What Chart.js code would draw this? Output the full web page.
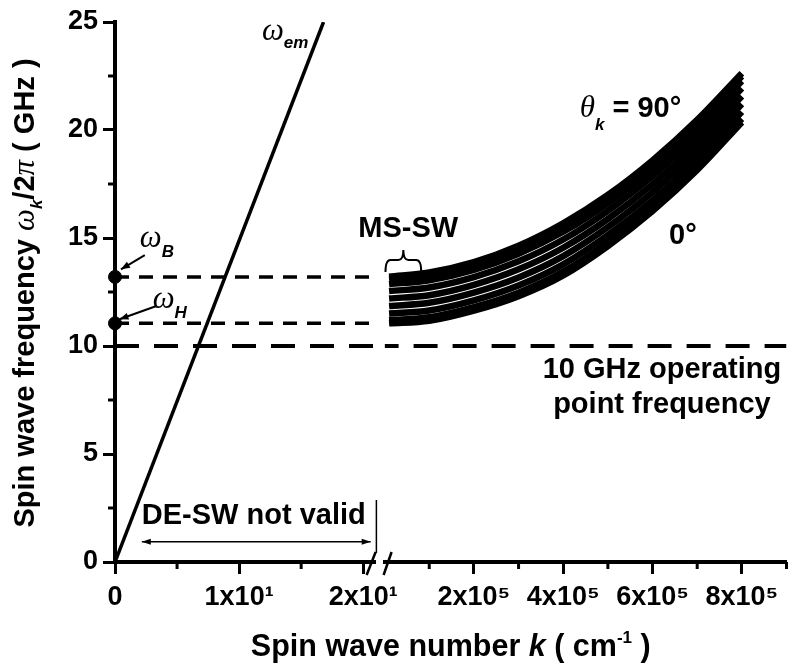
<!DOCTYPE html>
<html>
<head>
<meta charset="utf-8">
<script src="https://cdn.jsdelivr.net/npm/chart.js@4"></script>
<style>
  html, body { margin: 0; padding: 0; background: #fff; }
  canvas { display: block; }
</style>
</head>
<body>
<canvas id="myChart" width="794" height="667"></canvas>
<script>
// left part of the broken k axis (cm^-1, linear 0..21)
const emK = [0, 16.8];
const emFreq = [0, 25];
const fmrK = [0, 0];
const fmrFreq = [13.2, 11.05];      // omega_B, omega_H
const guideK = [0, 22];
const opLeftK = [0, 21];
const opRightK = [0, 900000];
const opFreq = 10;

// right part: MS-SW branch, one curve per theta_k, bottom (0 deg) to top (90 deg)
const msK = [10000, 100000, 200000, 300000, 400000, 500000, 600000, 700000, 800000];
const ms1 = [11.05, 11.17, 11.64, 12.31, 13.27, 14.63, 16.25, 18.15, 20.36];
const ms2 = [11.20, 11.33, 11.80, 12.47, 13.44, 14.80, 16.41, 18.31, 20.52];
const ms3 = [11.50, 11.64, 12.11, 12.80, 13.78, 15.13, 16.74, 18.64, 20.84];
const ms4 = [11.85, 12.00, 12.47, 13.17, 14.16, 15.50, 17.12, 19.01, 21.20];
const ms5 = [12.20, 12.35, 12.83, 13.55, 14.55, 15.88, 17.49, 19.38, 21.56];
const ms6 = [12.54, 12.71, 13.19, 13.92, 14.93, 16.26, 17.87, 19.75, 21.93];
const ms7 = [12.86, 13.04, 13.52, 14.27, 15.29, 16.61, 18.22, 20.10, 22.27];
const ms8 = [13.08, 13.27, 13.75, 14.50, 15.54, 16.85, 18.45, 20.33, 22.49];
const ms9 = [13.21, 13.40, 13.88, 14.64, 15.68, 16.99, 18.59, 20.47, 22.63];

const leftTicks = {0: '0', 10: '1x10¹', 20: '2x10¹'};
const rightTicks = {200000: '2x10⁵', 400000: '4x10⁵', 600000: '6x10⁵', 800000: '8x10⁵'};
const yLabelStep = 5;

const FONT = '"Liberation Sans", Arial, sans-serif';
const SERIF = '"Liberation Serif", "Times New Roman", serif';
const black = '#000';
const clear = 'rgba(0,0,0,0)';

const pts = (xs, ys) => xs.map((x, i) => ({x: x, y: ys[i]}));
const flat = (xs, v) => xs.map(x => ({x: x, y: v}));

const msSets = [ms1, ms2, ms3, ms4, ms5, ms6, ms7, ms8, ms9].map(vals => ({
  data: pts(msK, vals),
  xAxisID: 'xr', yAxisID: 'y',
  showLine: true, borderColor: black, borderWidth: 6.5,
  pointRadius: 0, cubicInterpolationMode: 'monotone', borderCapStyle: 'butt'
}));

function rich(ctx, segs, x, y, align) {
  let w = 0;
  segs.forEach(s => { ctx.font = s[1]; w += ctx.measureText(s[0]).width; });
  let cx = align === 'center' ? x - w / 2 : x;
  segs.forEach(s => {
    ctx.font = s[1];
    ctx.fillText(s[0], cx, y + (s[2] || 0));
    cx += ctx.measureText(s[0]).width;
  });
}

function line(ctx, x1, y1, x2, y2, w) {
  ctx.lineWidth = w;
  ctx.beginPath();
  ctx.moveTo(x1, y1);
  ctx.lineTo(x2, y2);
  ctx.stroke();
}

function head(ctx, x1, y1, x2, y2, len, half) {
  const a = Math.atan2(y2 - y1, x2 - x1);
  ctx.beginPath();
  ctx.moveTo(x2, y2);
  ctx.lineTo(x2 - len * Math.cos(a) + half * Math.sin(a), y2 - len * Math.sin(a) - half * Math.cos(a));
  ctx.lineTo(x2 - len * Math.cos(a) - half * Math.sin(a), y2 - len * Math.sin(a) + half * Math.cos(a));
  ctx.closePath();
  ctx.fill();
}

const B = 'bold 29px ' + FONT;
const BT = 'bold 30.5px ' + FONT;
const BIT = 'italic bold 30.5px ' + FONT;
const G = 'italic 31px ' + SERIF;
const SUB = 'italic bold 17px ' + FONT;

const annotate = {
  id: 'annotate',
  afterDraw(chart) {
    const {ctx, chartArea: a} = chart;
    const {xl, xr, y} = chart.scales;
    const X = v => xl.getPixelForValue(v);
    const R = v => xr.getPixelForValue(v);
    const Y = v => y.getPixelForValue(v);
    ctx.save();
    ctx.fillStyle = black;
    ctx.strokeStyle = black;
    ctx.lineCap = 'butt';
    ctx.textBaseline = 'alphabetic';
    ctx.textAlign = 'left';

    // minor ticks (outward, short)
    y.ticks.filter(t => t.value % yLabelStep !== 0).forEach(t => {
      const p = Y(t.value); line(ctx, a.left - 7, p, a.left, p, 3);
    });
    xl.ticks.filter(t => t.value % 10 !== 0).forEach(t => {
      const p = X(t.value); line(ctx, p, a.bottom, p, a.bottom + 7, 3);
    });
    xr.ticks.filter(t => t.value % 200000 !== 0).forEach(t => {
      const p = R(t.value); line(ctx, p, a.bottom, p, a.bottom + 7, 3);
    });

    // axis break
    line(ctx, xl.right - 9, a.bottom + 13, xl.right, a.bottom - 10, 2.5);
    line(ctx, xr.left - 1, a.bottom + 13, xr.left + 7, a.bottom - 10, 2.5);

    // omega labels and arrows
    rich(ctx, [['ω', G], ['em', SUB, 8]], X(11.84), Y(24.17));
    rich(ctx, [['ω', G], ['B', SUB, 10]], X(2.0), Y(14.58));
    rich(ctx, [['ω', G], ['H', SUB, 10]], X(3.04), Y(11.76));
    line(ctx, X(2.4), Y(14.21), X(0.48), Y(13.55), 2);
    head(ctx, X(2.4), Y(14.21), X(0.48), Y(13.55), 9, 3.5);
    line(ctx, X(3.34), Y(11.85), X(0.36), Y(11.24), 2);
    head(ctx, X(3.34), Y(11.85), X(0.36), Y(11.24), 9, 3.5);

    // DE-SW note
    ctx.font = B;
    ctx.fillText('DE-SW not valid', X(2.16), Y(1.76));
    line(ctx, X(2.16), Y(0.94), X(20.6), Y(0.94), 1.5);
    head(ctx, X(20.6), Y(0.94), X(2.16), Y(0.94), 9, 3);
    head(ctx, X(2.16), Y(0.94), X(20.6), Y(0.94), 9, 3);
    line(ctx, X(21.06), Y(0.42), X(21.06), Y(2.87), 1.5);

    // MS-SW with brace
    ctx.font = B;
    ctx.fillText('MS-SW', X(19.6), Y(15.05));
    const bl = R(2000), br = R(82000), bm = (bl + br) / 2;
    const bt = Y(14.44), bb = Y(13.98), be = Y(13.43);
    ctx.lineWidth = 2;
    ctx.beginPath();
    ctx.moveTo(bl, be);
    ctx.quadraticCurveTo(bl, bb, bl + 5, bb);
    ctx.lineTo(bm - 5, bb);
    ctx.quadraticCurveTo(bm, bb, bm, bt);
    ctx.quadraticCurveTo(bm, bb, bm + 5, bb);
    ctx.lineTo(br - 5, bb);
    ctx.quadraticCurveTo(br, bb, br, be);
    ctx.stroke();

    // angle labels
    rich(ctx, [['θ', G], ['k', SUB, 13], [' = 90°', B]], R(437000), Y(20.6));
    ctx.font = B;
    ctx.fillText('0°', R(637000), Y(14.72));

    // operating point
    ctx.textAlign = 'center';
    ctx.fillText('10 GHz operating', R(621000), Y(8.52));
    ctx.fillText('point frequency', R(621000), Y(6.90));
    ctx.textAlign = 'left';

    // axis titles
    rich(ctx, [['Spin wave number ', BT], ['k', BIT], [' ( cm', BT], ['-1', 'bold 17px ' + FONT, -13], [' )', BT]],
      (a.left + a.right) / 2, 656, 'center');
    ctx.save();
    ctx.translate(34, (a.top + a.bottom) / 2 + 1);
    ctx.rotate(-Math.PI / 2);
    rich(ctx, [['Spin wave frequency ', B], ['ω', G], ['k', SUB, 8], ['/2', B], ['π', G], [' ( GHz )', B]], 0, 0, 'center');
    ctx.restore();

    ctx.restore();
  }
};

const tickFont = {family: FONT, size: 27, weight: 'bold'};
const fit = h => s => { s.height = h; s.paddingLeft = 0; s.paddingRight = 0; };

new Chart(document.getElementById('myChart'), {
  type: 'scatter',
  data: {
    datasets: [
      ...msSets,
      {data: pts(emK, emFreq), xAxisID: 'xl', yAxisID: 'y', showLine: true,
       borderColor: black, borderWidth: 3.5, pointRadius: 0},
      {data: pts(fmrK, fmrFreq), xAxisID: 'xl', yAxisID: 'y', showLine: false,
       backgroundColor: black, borderColor: black, pointRadius: 6.5, clip: false},
      {data: flat(guideK, fmrFreq[0]), xAxisID: 'xl', yAxisID: 'y', showLine: true,
       borderColor: black, borderWidth: 3.5, borderDash: [14, 10], pointRadius: 0},
      {data: flat(guideK, fmrFreq[1]), xAxisID: 'xl', yAxisID: 'y', showLine: true,
       borderColor: black, borderWidth: 3.5, borderDash: [14, 10], pointRadius: 0},
      {data: flat(opLeftK, opFreq), xAxisID: 'xl', yAxisID: 'y', showLine: true,
       borderColor: black, borderWidth: 4, borderDash: [24, 15], pointRadius: 0},
      {data: flat(opRightK, opFreq), xAxisID: 'xr', yAxisID: 'y', showLine: true,
       borderColor: black, borderWidth: 4, borderDash: [24, 15], borderDashOffset: 10, pointRadius: 0}
    ]
  },
  options: {
    responsive: false,
    animation: false,
    devicePixelRatio: 1,
    layout: {padding: {left: 0, top: 22, right: 4, bottom: 0}},
    plugins: {legend: {display: false}, tooltip: {enabled: false}},
    scales: {
      y: {
        type: 'linear', position: 'left', min: 0, max: 25,
        afterFit: s => { s.width = 115; s.paddingTop = 0; s.paddingBottom = 0; },
        border: {color: black, width: 4},
        grid: {drawOnChartArea: false, tickLength: 12, tickWidth: 3,
               tickColor: c => c.tick.value % yLabelStep === 0 ? black : clear},
        ticks: {stepSize: 2.5, autoSkip: false, padding: 5, color: black, font: tickFont,
                callback: v => v % yLabelStep === 0 ? String(v) : ''}
      },
      xl: {
        type: 'linear', axis: 'x', position: 'bottom', stack: 'k', stackWeight: 262,
        min: 0, max: 21, afterFit: fit(105),
        border: {color: black, width: 4},
        grid: {drawOnChartArea: false, tickLength: 12, tickWidth: 3,
               tickColor: c => leftTicks[c.tick.value] !== undefined ? black : clear},
        ticks: {stepSize: 5, includeBounds: false, autoSkip: false, maxRotation: 0, minRotation: 0,
                padding: 7, color: black, font: tickFont,
                callback: v => leftTicks[v] !== undefined ? leftTicks[v] : ''}
      },
      xg: {
        type: 'linear', axis: 'x', position: 'bottom', stack: 'k', stackWeight: 9,
        min: 0, max: 1, afterFit: fit(105),
        border: {display: false}, grid: {display: false}, ticks: {display: false}
      },
      xr: {
        type: 'linear', axis: 'x', position: 'bottom', stack: 'k', stackWeight: 404,
        min: 0, max: 900000, afterFit: fit(105),
        border: {color: black, width: 4},
        grid: {drawOnChartArea: false, tickLength: 12, tickWidth: 3,
               tickColor: c => rightTicks[c.tick.value] !== undefined ? black : clear},
        ticks: {stepSize: 100000, includeBounds: false, autoSkip: false, maxRotation: 0, minRotation: 0,
                padding: 7, color: black, font: tickFont,
                callback: v => rightTicks[v] !== undefined ? rightTicks[v] : ''}
      }
    }
  },
  plugins: [annotate]
});
</script>
</body>
</html>
